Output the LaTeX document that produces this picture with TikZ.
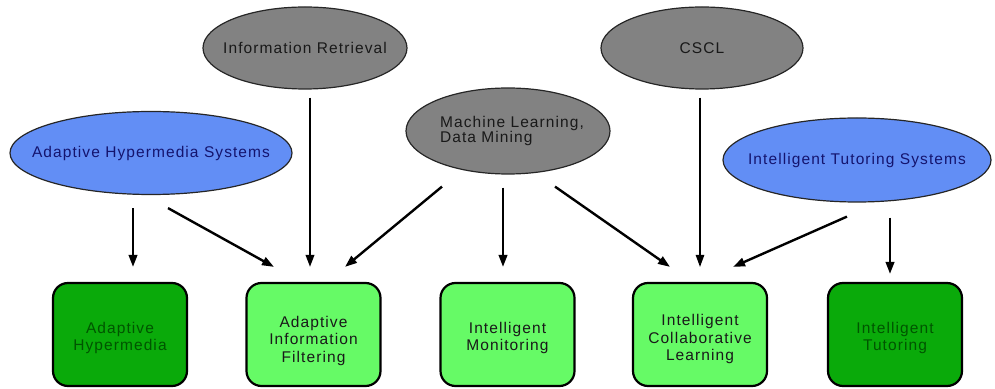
\documentclass[tikz,border=0pt]{standalone}
\usepackage{fontspec}
\setmainfont[LetterSpace=7]{Liberation Sans}
\usetikzlibrary{shapes.geometric,arrows.meta}
\definecolor{ellgray}{RGB}{130,130,130}
\definecolor{ellblue}{RGB}{98,142,245}
\definecolor{bluetext}{RGB}{20,20,110}
\definecolor{graytext}{RGB}{25,25,25}
\definecolor{boxdark}{RGB}{10,170,10}
\definecolor{boxdarktext}{RGB}{0,85,0}
\definecolor{boxlight}{RGB}{102,250,102}
\tikzset{
  ell/.style={ellipse, draw=black!85, line width=1.2pt, inner sep=0pt},
  grayell/.style={ell, fill=ellgray},
  blueell/.style={ell, fill=ellblue},
  gtext/.style={text=graytext, font=\fontsize{15.5}{15}\selectfont},
  btext/.style={text=bluetext, font=\fontsize{15.5}{15}\selectfont},
  boxbase/.style={draw=black, line width=2.2pt, rounded corners=15pt,
    minimum width=134pt, minimum height=103pt},
  boxtext/.style={align=center, font=\fontsize{15.5}{17.5}\selectfont},
  darkbox/.style={boxbase, fill=boxdark},
  lightbox/.style={boxbase, fill=boxlight},
  darktext/.style={boxtext, text=boxdarktext},
  lighttext/.style={boxtext, text=graytext},
  arr/.style={line width=2.4pt, -{Triangle[length=12pt,width=8.5pt]}},
  thinarr/.style={line width=1.3pt, -{Triangle[length=12pt,width=8.5pt]}},
  midarr/.style={line width=2pt, -{Triangle[length=12pt,width=8.5pt]}},
}
\begin{document}
\begin{tikzpicture}[x=1pt,y=1pt]
\useasboundingbox (0,0) rectangle (995,388);
% source ellipses
\node[grayell, minimum width=204pt, minimum height=82pt,
  label={[gtext]center:Information Retrieval}] (ir) at (305,340) {};
\node[blueell, minimum width=282pt, minimum height=83pt,
  label={[btext]center:Adaptive Hypermedia Systems}] (ahs) at (151,235) {};
\node[grayell, minimum width=204pt, minimum height=86pt,
  label={[gtext, align=left, xshift=4pt]center:{Machine Learning,\\Data Mining}}] (ml) at (508,257) {};
\node[grayell, minimum width=202pt, minimum height=82pt,
  label={[gtext]center:CSCL}] (cscl) at (702,340) {};
\node[blueell, minimum width=268pt, minimum height=84pt,
  label={[btext]center:Intelligent Tutoring Systems}] (its) at (857,228) {};
% target boxes
\node[darkbox, label={[darktext, yshift=-3.5pt]center:{Adaptive\\Hypermedia}}] (ah) at (120,53.5) {};
\node[lightbox, label={[lighttext, yshift=-6pt]center:{Adaptive\\Information\\Filtering}}] (aif) at (313.5,53.5) {};
\node[lightbox, label={[lighttext, yshift=-3.5pt]center:{Intelligent\\Monitoring}}] (im) at (507.5,53.5) {};
\node[lightbox, label={[lighttext, yshift=-4.5pt]center:{Intelligent\\Collaborative\\Learning}}] (icl) at (700,53.5) {};
\node[darkbox, label={[darktext, yshift=-3.5pt]center:{Intelligent\\Tutoring}}] (it) at (895,53.5) {};
% connectors
\draw[arr] ([xshift=-18pt,yshift=-13pt]ahs.south) -- ([xshift=13pt,yshift=15pt]ah.north);
\draw[arr] ([xshift=17pt,yshift=-13pt]ahs.south) -- ([xshift=-39.5pt,yshift=15pt]aif.north);
\draw[midarr] ([xshift=5pt,yshift=-8pt]ir.south) -- ([xshift=-3.5pt,yshift=15pt]aif.north);
\draw[arr] ([xshift=-66pt,yshift=-12pt]ml.south) -- ([xshift=31.5pt,yshift=15pt]aif.north);
\draw[arr] ([xshift=-5pt,yshift=-13pt]ml.south) -- ([xshift=-4.5pt,yshift=15pt]im.north);
\draw[arr] ([xshift=47pt,yshift=-12pt]ml.south) -- ([xshift=-30pt,yshift=15pt]icl.north);
\draw[thinarr] ([xshift=-2pt,yshift=-8pt]cscl.south) -- ([yshift=15pt]icl.north);
\draw[arr] ([xshift=-10pt,yshift=-14pt]its.south) -- ([xshift=33pt,yshift=15pt]icl.north);
\draw[arr] ([xshift=33pt,yshift=-15pt]its.south) -- ([xshift=-5pt,yshift=8pt]it.north);
\end{tikzpicture}
\end{document}
